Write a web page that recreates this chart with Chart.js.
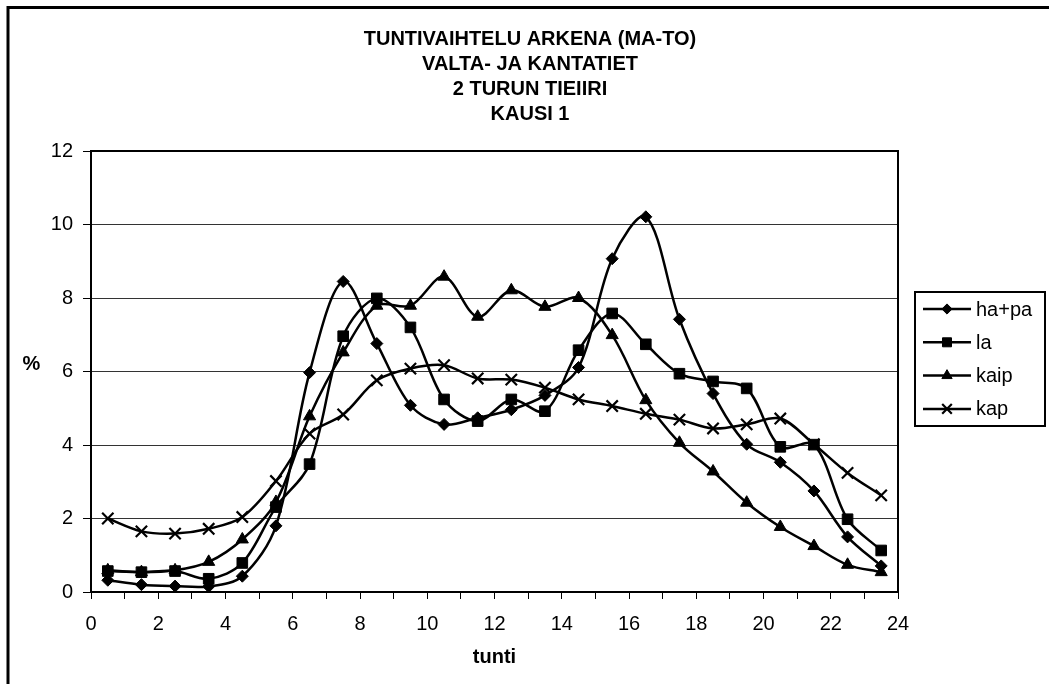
<!DOCTYPE html>
<html>
<head>
<meta charset="utf-8">
<script src="https://cdn.jsdelivr.net/npm/chart.js@4.4.0/dist/chart.umd.min.js"></script>
<style>
  html, body { margin: 0; padding: 0; background: #fff; }
  #kuva { display: block; }
</style>
</head>
<body>
<canvas id="kuva" width="1049" height="684"></canvas>
<script>
const tunnit = [0.5, 1.5, 2.5, 3.5, 4.5, 5.5, 6.5, 7.5, 8.5, 9.5, 10.5, 11.5,
                12.5, 13.5, 14.5, 15.5, 16.5, 17.5, 18.5, 19.5, 20.5, 21.5, 22.5, 23.5];

const haPa = [0.32, 0.20, 0.16, 0.15, 0.43, 1.80, 5.97, 8.45, 6.76, 5.08, 4.56, 4.74,
              4.96, 5.35, 6.11, 9.07, 10.21, 7.42, 5.40, 4.02, 3.53, 2.75, 1.50, 0.71];
const la = [0.57, 0.54, 0.57, 0.36, 0.79, 2.31, 3.48, 6.96, 7.99, 7.20, 5.24, 4.65,
            5.24, 4.92, 6.58, 7.58, 6.74, 5.94, 5.73, 5.54, 3.95, 4.01, 1.98, 1.13];
const kaip = [0.59, 0.54, 0.59, 0.82, 1.43, 2.45, 4.78, 6.52, 7.79, 7.79, 8.58, 7.49,
              8.21, 7.76, 8.00, 6.99, 5.22, 4.06, 3.28, 2.43, 1.77, 1.25, 0.74, 0.54];
const kap = [2.00, 1.65, 1.59, 1.72, 2.04, 3.02, 4.31, 4.83, 5.76, 6.08, 6.17, 5.81,
             5.78, 5.56, 5.24, 5.06, 4.85, 4.69, 4.45, 4.56, 4.72, 4.02, 3.24, 2.63];

const sarjaNimet = ['ha+pa', 'la', 'kaip', 'kap'];
const otsikko = ['TUNTIVAIHTELU ARKENA (MA-TO)', 'VALTA- JA KANTATIET', '2 TURUN TIEIIRI', 'KAUSI 1'];
const xOtsikko = 'tunti';
const yOtsikko = '%';

const fontti = '"Liberation Sans", Arial, Helvetica, sans-serif';
Chart.defaults.font.family = fontti;
Chart.defaults.color = '#000';

function pisteet(arvot) {
  return tunnit.map((t, i) => ({ x: t, y: arvot[i] }));
}

function sarja(nimi, arvot, tyyli, koko) {
  return {
    label: nimi,
    data: pisteet(arvot),
    borderColor: '#000',
    backgroundColor: '#000',
    borderWidth: 2.5,
    tension: 0.33,
    fill: false,
    pointStyle: tyyli,
    pointRadius: koko,
    pointBorderWidth: tyyli === 'crossRot' ? 2.2 : 1,
    pointBackgroundColor: '#000',
    pointBorderColor: '#000'
  };
}

// oma piirto: markkeri selitteeseen
function piirraMerkki(ctx, tyyli, r, x, y) {
  if (Chart.helpers && Chart.helpers.drawPoint) {
    Chart.helpers.drawPoint(ctx, { pointStyle: tyyli, radius: r, borderWidth: ctx.lineWidth, rotation: 0 }, x, y);
    return;
  }
  ctx.beginPath();
  if (tyyli === 'rectRot') {
    ctx.moveTo(x, y - r); ctx.lineTo(x + r, y); ctx.lineTo(x, y + r); ctx.lineTo(x - r, y); ctx.closePath(); ctx.fill();
  } else if (tyyli === 'rect') {
    const s = r * Math.SQRT1_2; ctx.rect(x - s, y - s, 2 * s, 2 * s); ctx.fill();
  } else if (tyyli === 'triangle') {
    ctx.moveTo(x, y - r); ctx.lineTo(x + r * 0.866, y + r / 2); ctx.lineTo(x - r * 0.866, y + r / 2); ctx.closePath(); ctx.fill();
  } else {
    const s = r * Math.SQRT1_2;
    ctx.moveTo(x - s, y - s); ctx.lineTo(x + s, y + s); ctx.moveTo(x + s, y - s); ctx.lineTo(x - s, y + s);
  }
  ctx.stroke();
}

const kehykset = {
  id: 'kehykset',
  afterDraw(chart) {
    const ctx = chart.ctx;
    const a = chart.chartArea;
    ctx.save();
    // kuvaajan reunat
    ctx.strokeStyle = '#000';
    ctx.lineWidth = 2;
    ctx.strokeRect(a.left, a.top, a.right - a.left, a.bottom - a.top);
    // ulkokehys (oikea ja ala jäävät kuvan ulkopuolelle)
    ctx.lineWidth = 3;
    ctx.beginPath();
    ctx.moveTo(8, chart.height);
    ctx.lineTo(8, 7.5);
    ctx.lineTo(chart.width, 7.5);
    ctx.stroke();
    // y-akselin otsikko vaakasuorassa
    ctx.fillStyle = '#000';
    ctx.font = 'bold 20px ' + fontti;
    ctx.textAlign = 'center';
    ctx.textBaseline = 'middle';
    ctx.fillText(yOtsikko, 31.5, (a.top + a.bottom) / 2 - 7);
    // selite
    const vasen = a.right + 17;
    const yla = 292;
    ctx.lineWidth = 2;
    ctx.strokeRect(vasen, yla, 130, 134);
    ctx.font = '20px ' + fontti;
    ctx.textAlign = 'left';
    chart.data.datasets.forEach((ds, i) => {
      const y = yla + 17 + i * 33.3;
      ctx.lineWidth = 2.5;
      ctx.beginPath();
      ctx.moveTo(vasen + 8, y);
      ctx.lineTo(vasen + 56, y);
      ctx.stroke();
      ctx.lineWidth = ds.pointStyle === 'crossRot' ? 2.2 : 1;
      piirraMerkki(ctx, ds.pointStyle, ds.pointRadius * 0.85, vasen + 32, y);
      ctx.fillText(ds.label, vasen + 61, y + 1);
    });
    ctx.restore();
  }
};

new Chart(document.getElementById('kuva'), {
  type: 'line',
  data: {
    datasets: [
      sarja(sarjaNimet[0], haPa, 'rectRot', 6),
      sarja(sarjaNimet[1], la, 'rect', 7.5),
      sarja(sarjaNimet[2], kaip, 'triangle', 7),
      sarja(sarjaNimet[3], kap, 'crossRot', 8)
    ]
  },
  options: {
    responsive: false,
    animation: false,
    devicePixelRatio: 1,
    layout: { padding: { left: 11, right: 0, top: 0, bottom: 0 } },
    plugins: {
      legend: { display: false },
      tooltip: { enabled: false },
      title: {
        display: true,
        text: otsikko,
        color: '#000',
        font: { size: 20, weight: 'bold', lineHeight: 1.25 },
        padding: { top: 27, bottom: 24 }
      }
    },
    scales: {
      x: {
        type: 'linear',
        min: 0,
        max: 24,
        ticks: {
          stepSize: 1,
          autoSkip: false,
          maxRotation: 0,
          padding: 13,
          font: { size: 20 },
          callback: v => (v % 2 === 0 ? String(v) : '')
        },
        grid: { drawOnChartArea: false, tickLength: 7, tickColor: '#000', tickWidth: 1 },
        border: { color: '#000', width: 2 },
        title: { display: true, text: xOtsikko, font: { size: 20, weight: 'bold' }, padding: { top: 0, bottom: 15 } },
        afterFit: s => { s.height = 92; }
      },
      y: {
        min: 0,
        max: 12,
        ticks: { stepSize: 2, padding: 10, font: { size: 20 } },
        grid: { color: '#333', lineWidth: 1, tickLength: 8, tickColor: '#000' },
        border: { color: '#000', width: 2 },
        afterFit: s => { s.width = 80; }
      },
      oikea: {
        position: 'right',
        min: 0,
        max: 12,
        grid: { display: false },
        ticks: { display: false },
        border: { display: false },
        afterFit: s => { s.width = 151; }
      }
    }
  },
  plugins: [kehykset]
});
</script>
</body>
</html>
